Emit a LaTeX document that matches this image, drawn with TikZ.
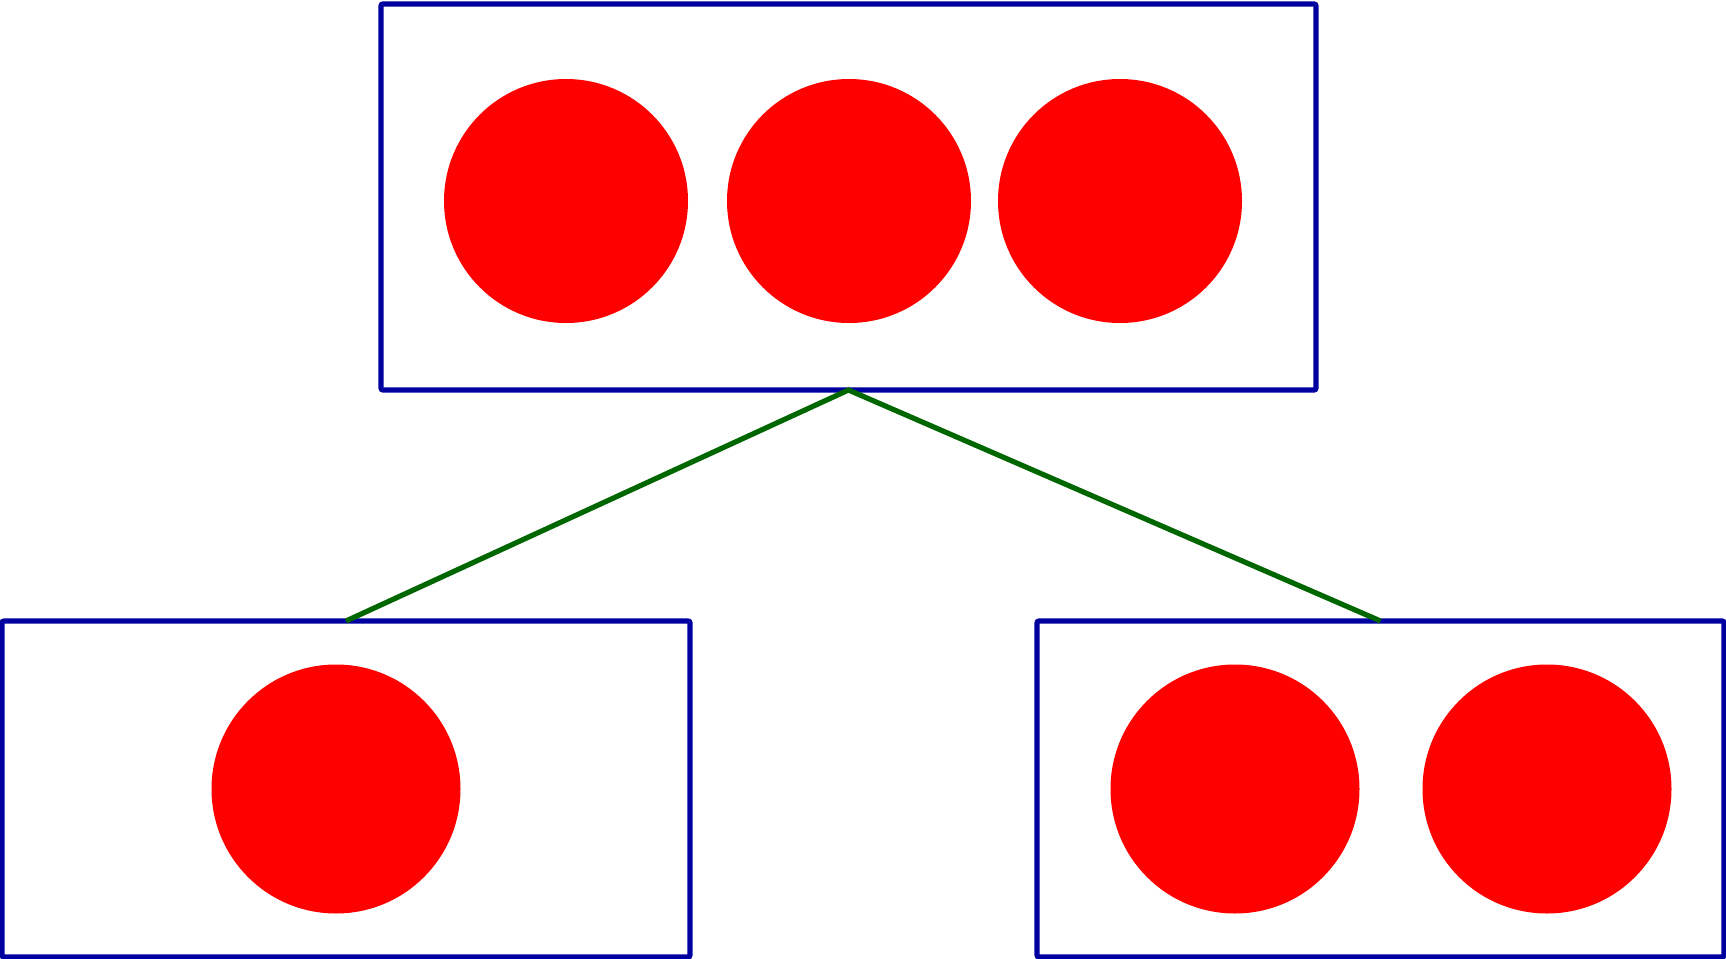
\documentclass[tikz,border=0pt]{standalone}
\begin{document}
\begin{tikzpicture}[x=0.5pt,y=-0.5pt,
  boxstyle/.style={draw=blue!63!black,line width=2.6pt,rounded corners=1pt,rectangle,inner sep=0pt,outer sep=0pt},
  ball/.style={circle,fill=red,draw=none,inner sep=0pt},
  link/.style={draw=green!40!black,line width=2.6pt}]
\useasboundingbox (0,0) rectangle (1726,959);
\node[boxstyle,minimum width=467.5pt,minimum height=193pt] (top) at (848.5,197) {};
\node[boxstyle,minimum width=344pt,minimum height=168pt] (bl) at (346,789) {};
\node[boxstyle,minimum width=343.5pt,minimum height=168pt] (br) at (1380.5,789) {};
\node[ball,minimum size=122pt] (t1) at (566,201) {};
\node[ball,minimum size=122pt] (t2) at (849,201) {};
\node[ball,minimum size=122pt] (t3) at (1120,201) {};
\node[ball,minimum size=124.5pt] (b1) at (336,789) {};
\node[ball,minimum size=124.5pt] (b2) at (1235,789) {};
\node[ball,minimum size=124.5pt] (b3) at (1547,789) {};
\draw[link] (bl.north) -- (top.south) -- (br.north);
\end{tikzpicture}
\end{document}
